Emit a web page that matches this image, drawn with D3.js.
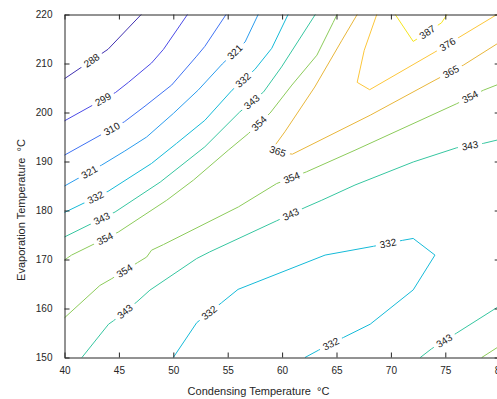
<!DOCTYPE html>
<html>
<head>
<meta charset="utf-8">
<script src="https://cdn.jsdelivr.net/npm/d3@7"></script>
<style>
  html, body { margin: 0; padding: 0; background: #fff; overflow: hidden; }
  text { font-family: "Liberation Sans", Arial, Helvetica, sans-serif; }
</style>
</head>
<body>
<svg id="chart" width="497" height="399"></svg>
<script>
// Contour levels and their colours (parula-like ramp)
const levels = [288, 299, 310, 321, 332, 343, 354, 365, 376, 387];
const levelColors = ["#4030b0", "#4b4ae6", "#3f72f3", "#2a9cee", "#14bad8",
                     "#36c6a0", "#8ccb5a", "#e8b63a", "#fcc63a", "#f4e41e"];

const xTicks = [40, 45, 50, 55, 60, 65, 70, 75, 80];
const yTicks = [150, 160, 170, 180, 190, 200, 210, 220];

// Contour polylines: [condensing °C, evaporation °C]
const c288  = [[40,206.9],[44,212.9],[47.05,220]];
const c299  = [[40,198.3],[44.7,204.1],[45.9,206.2],[48,210.1],[49.1,212.9],[51.3,220]];
const c310  = [[40,191.3],[45.5,198.1],[47.4,201.3],[49.85,205.6],[52.15,211.5],[52.9,213.5],[54.85,220]];
const c321  = [[40,185.0],[43.4,189.25],[45.55,192.15],[47.55,195.0],[50,199.8],[52.3,204.6],[54.5,209.9],[56.6,214.4],[57.8,220]];
const c332a = [[40,179.6],[44,183.9],[48,189.6],[50.3,193.7],[52.9,198.4],[55.4,204.55],[57.5,208.8],[59.05,213.1],[60.55,220]];
const c343a = [[40,174.6],[44.65,179.7],[48.8,185.8],[52.9,193],[56.1,200.1],[58.3,204.2],[59.95,209.3],[63.05,220]];
const c354a = [[40,169.9],[40.65,170.9],[44.95,175.6],[49.4,182.1],[51.85,186.2],[55.05,192.3],[56.9,195.7],[58.9,199.9],[60.9,205.6],[63.2,211.7],[64.7,218.4],[65.05,220]];
const c365  = [[66.9,220],[65.5,214.75],[63.0,205.2],[60.25,196.05],[59.35,193.3],[59.0,192.05],[60.95,191.5],[68.1,199.45],[74.05,206.6],[76.65,209.65],[79.75,214.0],[80,214.4]];
const c376  = [[68.7,220],[67.55,212.7],[66.9,206.15],[68.05,204.65],[74.05,212.35],[76.35,215.45],[79.75,220]];
const c387  = [[70.4,220],[72.05,214.5],[74.65,218.3],[75.15,220]];
const c354b = [[40,158.1],[43.25,164.7],[44.35,166.1],[46.7,169.35],[47.55,170.5],[48,171.9],[49.1,173.05],[56,180.75],[59.5,185.5],[62.25,187.9],[66.7,192.3],[76.05,201.8],[78.5,204.55],[80,205.85]];
const c343b = [[41.6,150],[44.05,156.8],[44.5,157.5],[46.65,161.35],[47.85,163.75],[52.15,170.2],[53.35,171.55],[59.5,177.9],[62.1,180.6],[63.65,182.1],[66.7,185.2],[72.05,189.9],[76.05,192.8],[78.5,193.7],[80,194.5]];
const c332b = [[50,150],[52.15,157.1],[54.45,161.2],[55.95,163.9],[63.95,170.9],[68.4,172.7],[71.05,173.9],[72.05,174.3],[74.05,170.9],[72.05,163.8],[68.1,156.8],[65.65,154.1],[63.35,151.5],[62.1,150]];
const c343c = [[72.7,150],[73.75,151.8],[76.05,155],[79.75,160.2],[80,160.5]];
const c354c = [[78.35,150],[79.75,152],[80,152.4]];

const contourLines = [
  [288, c288], [299, c299], [310, c310], [321, c321], [332, c332a], [343, c343a],
  [354, c354a], [365, c365], [376, c376], [387, c387], [354, c354b], [343, c343b],
  [332, c332b], [343, c343c], [354, c354c]
];

// Inline labels: [level, x, y, optional fixed tilt in degrees]
const contourLabels = [
  [288, 42.5, 210.6], [299, 43.56, 202.6], [310, 44.37, 196.6],
  [321, 42.3, 187.8], [321, 55.67, 212.3],
  [332, 42.85, 182.7], [332, 56.43, 206.6],
  [343, 43.42, 178.4], [343, 57.2, 202.2],
  [354, 43.72, 174.3], [354, 57.88, 197.8],
  [365, 59.6, 192.1, 18], [365, 75.5, 208.4],
  [376, 75.2, 213.9], [387, 73.35, 216.4],
  [354, 45.51, 167.7], [354, 60.88, 186.7], [354, 77.27, 203.2],
  [343, 45.56, 159.4], [343, 60.8, 179.25], [343, 77.27, 193.3],
  [332, 53.3, 159.15], [332, 69.73, 173.3], [332, 64.48, 152.8],
  [343, 74.9, 153.4]
];

const W = 497, H = 399;
const svg = d3.select("#chart");
const x = d3.scaleLinear().domain([40, 80]).range([64.5, 499.7]);
const y = d3.scaleLinear().domain([150, 220]).range([357.5, 14.5]);
const color = d3.scaleOrdinal().domain(levels).range(levelColors);
const line = d3.line().x(d => x(d[0])).y(d => y(d[1]));
const axisColor = "#262626";

const defs = svg.append("defs");
const linesG = svg.append("g").attr("class", "contours");
const labelsG = svg.append("g").attr("class", "contour-labels");

// Place each label on its line, aligned with the local segment direction
function placeLabel(lab) {
  const [lev, lx, ly, tilt] = lab;
  const px = x(lx), py = y(ly);
  if (tilt !== undefined) return { lev, px, py, angle: tilt };
  let best = null;
  contourLines.filter(c => c[0] === lev).forEach(([, pts]) => {
    for (let i = 0; i < pts.length - 1; i++) {
      const ax = x(pts[i][0]), ay = y(pts[i][1]);
      const bx = x(pts[i + 1][0]), by = y(pts[i + 1][1]);
      const dx = bx - ax, dy = by - ay;
      const len2 = dx * dx + dy * dy;
      let t = len2 ? ((px - ax) * dx + (py - ay) * dy) / len2 : 0;
      t = Math.max(0, Math.min(1, t));
      const qx = ax + t * dx, qy = ay + t * dy;
      const dist = Math.hypot(px - qx, py - qy);
      if (!best || dist < best.dist) {
        let ang = Math.atan2(dy, dx) * 180 / Math.PI;
        if (ang > 90) ang -= 180;
        if (ang <= -90) ang += 180;
        best = { dist, px: qx, py: qy, angle: ang };
      }
    }
  });
  return { lev, px: best.px, py: best.py, angle: best.angle };
}

const placed = contourLabels.map(placeLabel);

const texts = labelsG.selectAll("text").data(placed).join("text")
  .attr("transform", d => `translate(${d.px},${d.py}) rotate(${d.angle})`)
  .attr("text-anchor", "middle")
  .attr("dy", "0.35em")
  .attr("font-size", 10)
  .attr("fill", "#1a1a1a")
  .text(d => d.lev);

texts.each(function (d) { d.w = this.getComputedTextLength(); });

// One mask per level that opens a gap in the line under each of its labels
levels.forEach(lev => {
  const m = defs.append("mask").attr("id", "gap-" + lev)
    .attr("maskUnits", "userSpaceOnUse")
    .attr("x", 0).attr("y", 0).attr("width", W).attr("height", H);
  m.append("rect").attr("x", 0).attr("y", 0).attr("width", W).attr("height", H).attr("fill", "#fff");
  placed.filter(d => d.lev === lev).forEach(d => {
    m.append("rect")
      .attr("x", -d.w / 2 - 4).attr("y", -6)
      .attr("width", d.w + 8).attr("height", 12)
      .attr("transform", `translate(${d.px},${d.py}) rotate(${d.angle})`)
      .attr("fill", "#000");
  });
});

linesG.selectAll("path").data(contourLines).join("path")
  .attr("d", d => line(d[1]))
  .attr("fill", "none")
  .attr("stroke", d => color(d[0]))
  .attr("stroke-width", 1)
  .attr("mask", d => `url(#gap-${d[0]})`);

// Box axes with inward ticks
function styleAxis(g) {
  g.select(".domain").attr("stroke", axisColor);
  g.selectAll(".tick line").attr("stroke", axisColor);
  g.selectAll(".tick text").attr("fill", axisColor)
    .attr("font-size", 10)
    .attr("font-family", '"Liberation Sans", Arial, Helvetica, sans-serif');
}

svg.append("g").attr("transform", `translate(0,${y(150)})`)
  .call(d3.axisBottom(x).tickValues(xTicks).tickSize(-5).tickSizeOuter(0).tickPadding(9))
  .call(styleAxis);
svg.append("g").attr("transform", `translate(0,${y(220)})`)
  .call(d3.axisTop(x).tickValues(xTicks).tickSize(-5).tickSizeOuter(0).tickFormat(() => ""))
  .call(styleAxis);
svg.append("g").attr("transform", `translate(${x(40)},0)`)
  .call(d3.axisLeft(y).tickValues(yTicks).tickSize(-5).tickSizeOuter(0).tickPadding(12))
  .call(styleAxis);
svg.append("g").attr("transform", `translate(${x(80)},0)`)
  .call(d3.axisRight(y).tickValues(yTicks).tickSize(-5).tickSizeOuter(0).tickFormat(() => ""))
  .call(styleAxis);

// Axis titles (two spaces before the unit are kept)
svg.append("text")
  .attr("x", 258.5).attr("y", 395)
  .attr("text-anchor", "middle")
  .attr("font-size", 11)
  .attr("fill", axisColor)
  .attr("xml:space", "preserve")
  .style("white-space", "pre")
  .text("Condensing Temperature  °C");

svg.append("text")
  .attr("transform", "translate(25,210) rotate(-90)")
  .attr("text-anchor", "middle")
  .attr("font-size", 11)
  .attr("fill", axisColor)
  .attr("xml:space", "preserve")
  .style("white-space", "pre")
  .text("Evaporation Temperature  °C");
</script>
</body>
</html>
